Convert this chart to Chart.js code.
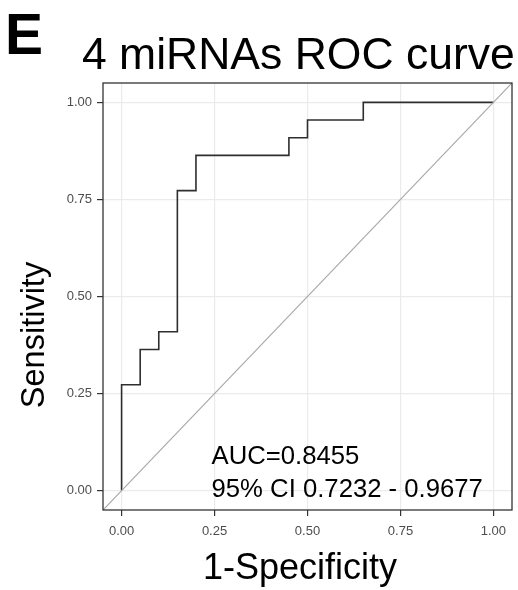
<!DOCTYPE html>
<html lang="en">
<head>
<meta charset="UTF-8">
<title>4 miRNAs ROC curve</title>
<script src="https://cdn.jsdelivr.net/npm/chart.js"></script>
<style>
  html, body { margin: 0; padding: 0; background: #fff; }
</style>
</head>
<body>
<canvas id="roc" width="518" height="590"></canvas>
<script>
// ROC curve corners: 1 - specificity vs sensitivity (22 cases, 20 controls)
const fpr = [0, 0, 0.05, 0.10, 0.15, 0.20, 0.45, 0.50, 0.65, 1.00];
const tpr = [0, 0.2727, 0.3636, 0.4091, 0.7727, 0.8636, 0.9091, 0.9545, 1.00, 1.00];

const tickValues = [0, 0.25, 0.5, 0.75, 1];
const tickLabels = ['0.00', '0.25', '0.50', '0.75', '1.00'];
const axisMin = -0.05;
const axisMax = 1.05;

const aucLines = ['AUC=0.8455', '95% CI 0.7232 - 0.9677'];

const FONT = '"Liberation Sans", Arial, Helvetica, sans-serif';

// panel border + all the big text
const panelText = {
  id: 'panelText',
  afterDatasetsDraw(chart) {
    const { ctx, chartArea: a } = chart;
    ctx.save();
    ctx.strokeStyle = '#333333';
    ctx.lineWidth = 1.3;
    ctx.strokeRect(a.left, a.top, a.right - a.left, a.bottom - a.top);
    ctx.restore();
  },
  afterDraw(chart) {
    const ctx = chart.ctx;
    const x = chart.scales.x;
    ctx.save();
    ctx.fillStyle = '#000';
    ctx.textBaseline = 'alphabetic';

    ctx.font = 'bold 57px ' + FONT;
    ctx.fillText('E', 5, 54);

    ctx.font = '44.5px ' + FONT;
    ctx.fillText('4 miRNAs ROC curve', 82, 69);

    ctx.font = '25.7px ' + FONT;
    ctx.textAlign = 'left';
    ctx.fillText(aucLines[0], x.getPixelForValue(0.25) - 3, 464);
    ctx.fillText(aucLines[1], x.getPixelForValue(0.25) - 3, 497);

    ctx.font = '36px ' + FONT;
    ctx.textAlign = 'center';
    ctx.fillText('1-Specificity', 300, 579);

    ctx.translate(44, 335);
    ctx.rotate(-Math.PI / 2);
    ctx.font = '32.5px ' + FONT;
    ctx.fillText('Sensitivity', 0, 0);
    ctx.restore();
  }
};

function axisOpts(fit, pad) {
  return {
    type: 'linear',
    min: axisMin,
    max: axisMax,
    afterBuildTicks: s => { s.ticks = tickValues.map(v => ({ value: v })); },
    afterFit: fit,
    border: { display: false },
    grid: {
      color: '#ebebeb',
      lineWidth: 1.2,
      tickColor: '#333333',
      tickWidth: 1.2,
      tickLength: 6
    },
    ticks: {
      autoSkip: false,
      maxRotation: 0,
      padding: pad,
      color: '#4d4d4d',
      font: { family: FONT, size: 13 },
      callback: (v, i) => tickLabels[i]
    }
  };
}

new Chart(document.getElementById('roc'), {
  type: 'line',
  data: {
    datasets: [
      {
        data: [{ x: axisMin, y: axisMin }, { x: axisMax, y: axisMax }],
        borderColor: '#a8a8a8',
        borderWidth: 1.2,
        pointRadius: 0
      },
      {
        data: fpr.map((v, i) => ({ x: v, y: tpr[i] })),
        borderColor: '#2e2e2e',
        borderWidth: 1.6,
        pointRadius: 0,
        stepped: true
      }
    ]
  },
  options: {
    responsive: false,
    animation: false,
    devicePixelRatio: 1,
    layout: { padding: { top: 83, right: 6, left: 0, bottom: 0 } },
    plugins: {
      legend: { display: false },
      tooltip: { enabled: false }
    },
    scales: {
      x: axisOpts(s => { s.height = 80; }, 8),
      y: axisOpts(s => { s.width = 103; }, 5)
    }
  },
  plugins: [panelText]
});
</script>
</body>
</html>
